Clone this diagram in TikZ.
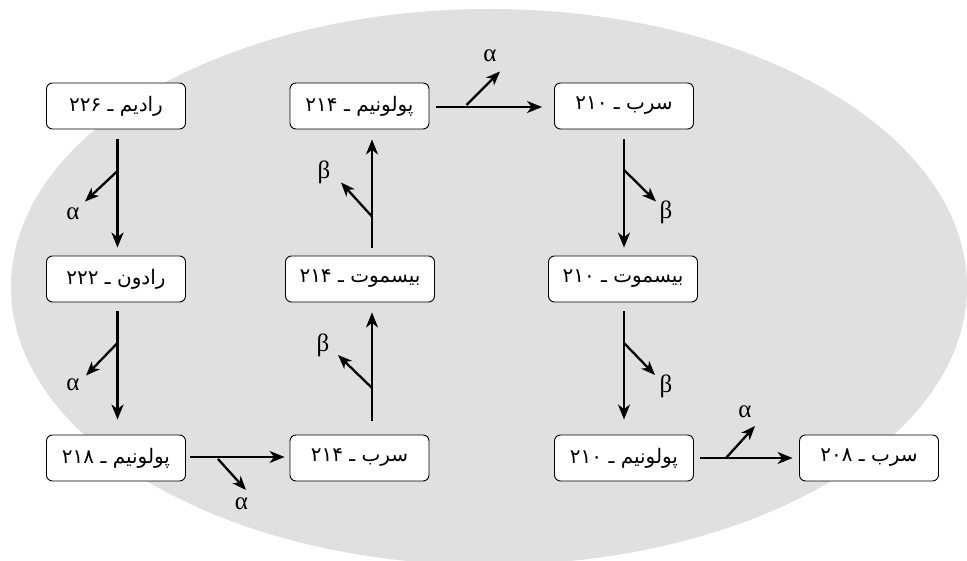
\documentclass[tikz,border=0pt]{standalone}
\usepackage{fontspec}
\usetikzlibrary{arrows.meta}
\TeXXeTstate=1
\newfontfamily\arabicfont[Script=Arabic]{DejaVu Sans}
\newfontfamily\greekfont{Liberation Serif}
\definecolor{bggray}{RGB}{224,224,224}
\newcommand\fa[1]{{\arabicfont\fontsize{20}{24}\selectfont\beginR #1\endR}}

\tikzset{
  nuclide/.style={draw, line width=0.9pt, rounded corners=6pt, fill=white,
    minimum width=139pt, minimum height=46pt, inner sep=0pt},
  widebox/.style={nuclide, minimum width=149pt},
  decay/.style={line width=2.3pt, -{Stealth[length=15pt,width=12pt,inset=4.5pt]}},
  emit/.style={line width=2.3pt, -{Stealth[length=14pt,width=11pt,inset=4pt]}},
  particle/.style={font=\greekfont\fontsize{25}{28}\selectfont, inner sep=0pt}
}

\begin{document}
\begin{tikzpicture}[x=1pt, y=-1pt]
  \useasboundingbox (0,0) rectangle (967,561);
  % background
  \fill[bggray] (489,287) ellipse [x radius=478, y radius=278];

  % nuclides
  \node[nuclide] (ra226) at (116,106)   {\fa{رادیم ـ ۲۲۶}};
  \node[nuclide] (rn222) at (116,279)   {\fa{رادون ـ ۲۲۲}};
  \node[nuclide] (po218) at (116,458)   {\fa{پولونیم ـ ۲۱۸}};
  \node[nuclide] (pb214) at (359.5,458) {\fa{سرب ـ ۲۱۴}};
  \node[widebox] (bi214) at (360,279)   {\fa{بیسموت ـ ۲۱۴}};
  \node[nuclide] (po214) at (359.5,106) {\fa{پولونیم ـ ۲۱۴}};
  \node[nuclide] (pb210) at (624,106)   {\fa{سرب ـ ۲۱۰}};
  \node[widebox] (bi210) at (623,279)   {\fa{بیسموت ـ ۲۱۰}};
  \node[nuclide] (po210) at (624,458)   {\fa{پولونیم ـ ۲۱۰}};
  \node[nuclide] (pb208) at (869,458)   {\fa{سرب ـ ۲۰۸}};

  % main decay chain
  \draw[decay, shorten <=10pt, shorten >=8pt]
    ([xshift=1.5pt]ra226.south) -- ([xshift=1.5pt]rn222.north);
  \draw[decay, shorten <=9pt, shorten >=15pt]
    ([xshift=1.5pt]rn222.south) -- ([xshift=1.5pt]po218.north);
  \draw[decay, shorten <=4.5pt, shorten >=5pt]
    ([yshift=1pt]po218.east) -- ([yshift=1pt]pb214.west);
  \draw[decay, shorten <=14pt, shorten >=10pt]
    ([xshift=12.5pt]pb214.north) -- ([xshift=12pt]bi214.south);
  \draw[decay, shorten <=8pt, shorten >=10pt]
    ([xshift=12pt]bi214.north) -- ([xshift=12.5pt]po214.south);
  \draw[decay, shorten <=6.5pt, shorten >=12pt]
    ([yshift=-1pt]po214.east) -- ([yshift=-1pt]pb210.west);
  \draw[decay, shorten <=10pt, shorten >=8pt]
    (pb210.south) -- ([xshift=1pt]bi210.north);
  \draw[decay, shorten <=9pt, shorten >=15pt]
    ([xshift=1pt]bi210.south) -- (po210.north);
  \draw[decay, shorten <=6.5pt, shorten >=6.5pt]
    (po210.east) -- (pb208.west);

  % emitted particles
  \coordinate (e1s) at (117.5,171);  \coordinate (e1t) at (85,201.5);
  \coordinate (e2s) at (117.5,343);  \coordinate (e2t) at (86,375.5);
  \coordinate (e3s) at (218,459);    \coordinate (e3t) at (246,490);
  \coordinate (e4s) at (372,388);    \coordinate (e4t) at (338,355);
  \coordinate (e5s) at (372,216.5);  \coordinate (e5t) at (341,182.5);
  \coordinate (e6s) at (466.5,105);  \coordinate (e6t) at (500,71.5);
  \coordinate (e7s) at (624,170);    \coordinate (e7t) at (656,201.5);
  \coordinate (e8s) at (624,343);    \coordinate (e8t) at (655,375);
  \coordinate (e9s) at (726,458);    \coordinate (e9t) at (755,426);

  \foreach \i in {1,...,9} \draw[emit] (e\i s) -- (e\i t);

  \node[particle] (p1) at (73,214)    {α};
  \node[particle] (p2) at (73,385)    {α};
  \node[particle] (p3) at (241.5,504) {α};
  \node[particle] (p4) at (323,345)   {β};
  \node[particle] (p5) at (324,172)   {β};
  \node[particle] (p6) at (490,56)    {α};
  \node[particle] (p7) at (666,212)   {β};
  \node[particle] (p8) at (666,386)   {β};
  \node[particle] (p9) at (745,412)   {α};
\end{tikzpicture}
\end{document}
